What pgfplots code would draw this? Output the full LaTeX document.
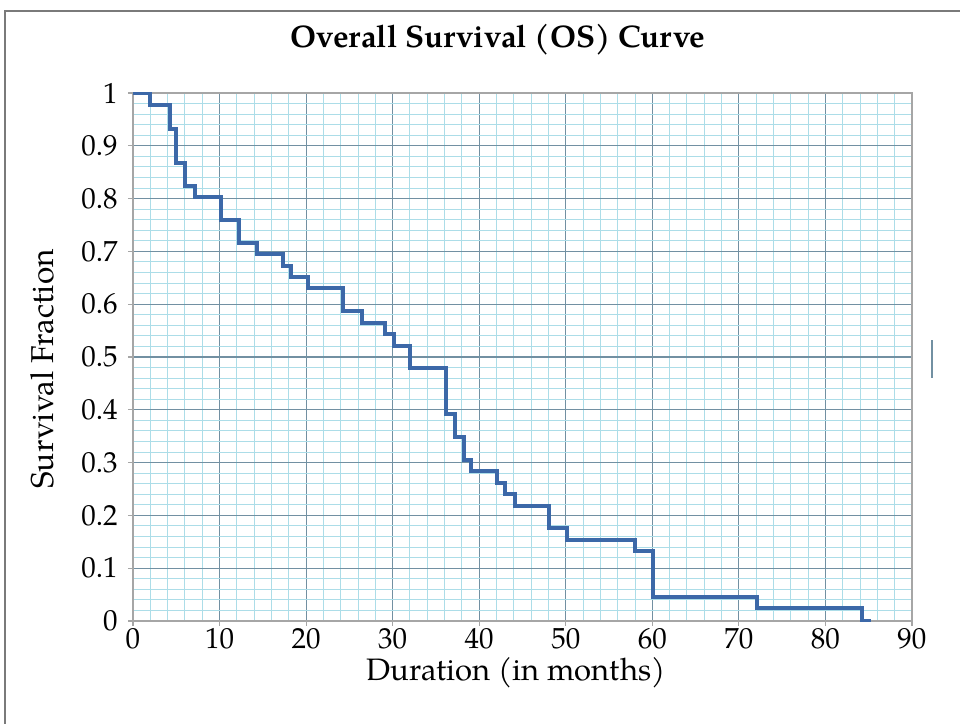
\documentclass[border=0pt]{standalone}
\usepackage{fontspec}
\setmainfont{TeX Gyre Pagella}
\usepackage{pgfplots}
\pgfplotsset{compat=1.18}
\definecolor{majgrid}{HTML}{7290A2}
\definecolor{mingrid}{HTML}{ACDDE8}
\definecolor{curve}{HTML}{3C68A8}
\definecolor{frame}{HTML}{7A7A7A}
\begin{document}
\begin{tikzpicture}
\begin{axis}[
  scale only axis,
  width=389.5pt, height=264pt,
  xmin=0, xmax=90, ymin=0, ymax=1,
  xtick={0,10,20,30,40,50,60,70,80,90},
  ytick={0,0.1,0.2,0.3,0.4,0.5,0.6,0.7,0.8,0.9,1},
  yticklabels={0,0.1,0.2,0.3,0.4,0.5,0.6,0.7,0.8,0.9,1},
  /pgf/number format/assume math mode=true,
  minor x tick num=4,
  minor y tick num=4,
  grid=both,
  major grid style={majgrid, line width=0.6pt},
  minor grid style={mingrid, line width=0.5pt},
  axis line style={gray!70, line width=0.7pt},
  tick align=outside,
  major tick length=2.5pt,
  minor tick length=0pt,
  tick style={gray!70, line width=0.6pt},
  xtick pos=bottom, ytick pos=left,
  ticklabel style={font=\fontsize{14.5}{16}\selectfont, inner sep=1pt},
  xticklabel style={yshift=0pt},
  yticklabel style={xshift=-4pt},
  title={\textbf{Overall Survival (OS) Curve}},
  title style={font=\fontsize{15.6}{17}\selectfont, at={(rel axis cs:0.4686,1.0777)}, anchor=center, inner sep=1pt},
  xlabel={Duration (in months)},
  xlabel style={font=\fontsize{15.5}{17}\selectfont, at={(rel axis cs:0.4917,-0.0985)}, anchor=center, inner sep=0.5pt},
  ylabel={Survival Fraction},
  ylabel style={font=\fontsize{15.8}{17}\selectfont, at={(rel axis cs:-0.1168,0.4773)}, anchor=center, inner sep=1pt},
]
\addplot[const plot, curve, line width=2pt] coordinates {
(0,1)
(2.0,0.977)
(4.3,0.931)
(5.0,0.868)
(6.0,0.824)
(7.2,0.803)
(10.2,0.759)
(12.2,0.716)
(14.3,0.695)
(17.3,0.673)
(18.2,0.652)
(20.2,0.630)
(24.3,0.587)
(26.4,0.565)
(29.1,0.543)
(30.1,0.521)
(32.0,0.479)
(36.2,0.392)
(37.2,0.348)
(38.2,0.305)
(39.1,0.284)
(42.0,0.261)
(43.0,0.240)
(44.1,0.218)
(48.1,0.176)
(50.1,0.154)
(58.0,0.132)
(60.1,0.045)
(72.1,0.024)
(84.2,0.0)
(85.3,0.0)
};
\end{axis}
\draw[frame, line width=1pt] (-64pt,-60pt) -- (-64pt,305pt) -- (420pt,305pt);
\draw[majgrid, line width=1pt] (399.5pt,121.5pt) -- (399.5pt,140.5pt);
\pgfresetboundingbox
\useasboundingbox (-66.5pt,-51.5pt) rectangle (413.5pt,310.5pt);
\end{tikzpicture}
\end{document}
